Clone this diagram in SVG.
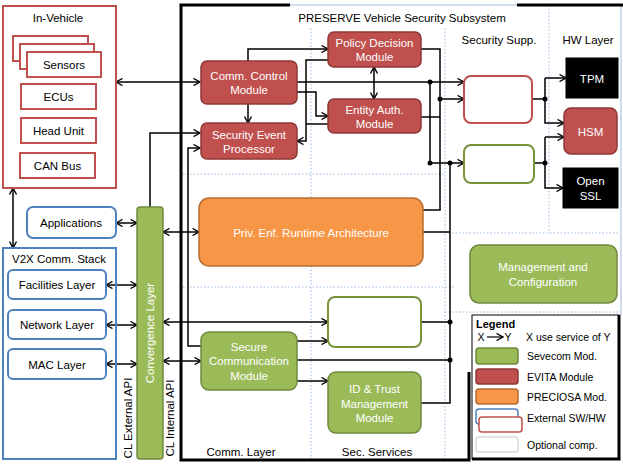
<svg xmlns="http://www.w3.org/2000/svg" width="623" height="467" viewBox="0 0 623 467">
<style>
text{font-family:"Liberation Sans",Arial,sans-serif;font-size:11.5px;fill:#000;text-anchor:middle}
.w{fill:#fff}
.red{fill:#C0504D;stroke:#8C3836;stroke-width:1.5}
.grn{fill:#9BBB59;stroke:#71893F;stroke-width:1.5}
.org{fill:#F79646;stroke:#B66D31;stroke-width:1.5}
.blk{fill:#000;stroke:#000}
.ro{fill:#fff;stroke:#C0504D;stroke-width:2}
.bo{fill:#fff;stroke:#4F81BD;stroke-width:2}
.go{fill:#fff;stroke:#77933C;stroke-width:2}
.grid{stroke:#9DB9DE;stroke-width:1;stroke-dasharray:1.5 2;fill:none}
.c{fill:none;stroke:#000;stroke-width:1.5}
.e{marker-end:url(#a)}
.b{marker-start:url(#a);marker-end:url(#a)}
.thick{stroke:#000;stroke-width:3;fill:none}
.lg{text-anchor:start;font-size:10.5px}
</style>
<defs>
<marker id="a" viewBox="0 0 8 8" refX="7.5" refY="4" markerWidth="8" markerHeight="8" markerUnits="userSpaceOnUse" orient="auto-start-reverse">
<path d="M1,0.5 L7.5,4 L1,7.5" fill="none" stroke="#000" stroke-width="1.4"/>
</marker>
</defs>
<rect width="623" height="467" fill="#fff"/>

<g id="grid">
<line class="grid" x1="311" y1="28" x2="311" y2="460"/>
<line class="grid" x1="445" y1="28" x2="445" y2="460"/>
<line class="grid" x1="549" y1="5" x2="549" y2="233"/>
<line class="grid" x1="183" y1="174" x2="445" y2="174"/>
<line class="grid" x1="183" y1="287" x2="455" y2="287"/>
<line class="grid" x1="445" y1="233" x2="620" y2="233"/>
<line class="grid" x1="445" y1="312" x2="620" y2="312"/>
</g>

<g id="preserve-frame">
<line x1="290" y1="5" x2="517" y2="5" stroke="#9DB9DE" stroke-width="1"/>
<line x1="621" y1="5" x2="621" y2="315" stroke="#9DB9DE" stroke-width="1"/>
<path class="thick" d="M290,5 H181 V460 H469 V372"/>
<line class="thick" x1="517" y1="5" x2="623" y2="5"/>
<text x="402" y="21.5">PRESERVE Vehicle Security Subsystem</text>
<text x="499" y="44">Security Supp.</text>
<text x="588" y="44">HW Layer</text>
<text x="241" y="456">Comm. Layer</text>
<text x="377" y="456">Sec. Services</text>
</g>

<g id="connectors">
<path class="c b" d="M116,82 H200"/>
<path class="c e" d="M150,207 V133 H200"/>
<path class="c e" d="M201,346 H188 V148 H200"/>
<path class="c b" d="M163,232 H199"/>
<path class="c b" d="M163,322 H328"/>
<path class="c b" d="M163,361 H201"/>
<path class="c b" d="M116,223 H137"/>
<path class="c b" d="M106,285 H137"/>
<path class="c b" d="M106,325 H137"/>
<path class="c b" d="M106,364 H137"/>
<path class="c b" d="M13,188 V248"/>
<path class="c e" d="M248,104 V123"/>
<path class="c e" d="M248,61 V49 H328"/>
<path class="c e" d="M297,92 H316 V116 H328"/>
<path class="c b" d="M374,67 V99"/>
<path class="c e" d="M328,60 H306 V141 H297"/>
<path class="c" d="M328,124 H306"/>
<path class="c e" d="M297,82 H464"/>
<path class="c e" d="M430,82 V163 H464"/>
<path class="c" d="M421,49 H440 V210 H423"/>
<path class="c" d="M421,117 H440"/>
<path class="c e" d="M440,99 H464"/>
<path class="c" d="M450,163 V403 H421"/>
<path class="c" d="M423,232 H450"/>
<path class="c" d="M421,322 H450"/>
<path class="c" d="M297,360 H450"/>
<path class="c e" d="M297,341 H328"/>
<path class="c e" d="M297,381 H328"/>
<path class="c" d="M532,99 H545"/>
<path class="c e" d="M545,78 V123 H564"/>
<path class="c e" d="M545,78 H566"/>
<path class="c" d="M534,163 H545"/>
<path class="c e" d="M545,137 V188 H563"/>
<path class="c e" d="M545,137 H564"/>
<circle cx="430" cy="82" r="2.5"/>
<circle cx="430" cy="163" r="2.5"/>
<circle cx="450" cy="163" r="2.5"/>
<circle cx="440" cy="99" r="2.5"/>
<circle cx="450" cy="322" r="2.5"/>
<circle cx="450" cy="360" r="2.5"/>
<circle cx="545" cy="99" r="2.5"/>
<circle cx="545" cy="163" r="2.5"/>
</g>

<g id="in-vehicle">
<rect x="3" y="6" width="113" height="182" fill="none" stroke="#C0504D" stroke-width="2"/>
<text x="58" y="21.5">In-Vehicle</text>
</g>
<g id="sensors">
<rect class="ro" x="13" y="36" width="75" height="25"/>
<rect class="ro" x="20" y="44" width="74" height="25"/>
<rect class="ro" x="27" y="52" width="74" height="25"/>
<text x="64" y="69">Sensors</text>
</g>
<g id="ecus"><rect class="ro" x="21" y="84" width="75" height="25"/><text x="58.5" y="101">ECUs</text></g>
<g id="head-unit"><rect class="ro" x="21" y="118" width="75" height="25"/><text x="58.5" y="135">Head Unit</text></g>
<g id="can-bus"><rect class="ro" x="20" y="153" width="75" height="25"/><text x="57.5" y="170">CAN Bus</text></g>

<g id="applications"><rect class="bo" x="27" y="207" width="89" height="31" rx="6"/><text x="71" y="227">Applications</text></g>
<g id="v2x">
<rect x="3" y="248" width="113" height="211" fill="none" stroke="#4F81BD" stroke-width="2"/>
<text x="59" y="262.5">V2X Comm. Stack</text>
</g>
<g id="facilities"><rect class="bo" x="8" y="270" width="98" height="29" rx="5"/><text x="57" y="289">Facilities Layer</text></g>
<g id="network"><rect class="bo" x="8" y="310" width="98" height="29" rx="5"/><text x="57" y="329">Network Layer</text></g>
<g id="mac"><rect class="bo" x="8" y="349" width="98" height="30" rx="5"/><text x="57" y="368.5">MAC Layer</text></g>

<g id="convergence">
<rect class="grn" x="137" y="207" width="26" height="252" rx="3"/>
<text class="w" transform="translate(154,333) rotate(-90)">Convergence Layer</text>
</g>
<g id="api-labels">
<text transform="translate(132,418) rotate(-90)">CL External API</text>
<text transform="translate(174,418) rotate(-90)">CL Internal API</text>
</g>

<g id="ccm"><rect class="red" x="201" y="61" width="96" height="43" rx="6"/><text class="w" x="249" y="80">Comm. Control</text><text class="w" x="249" y="94">Module</text></g>
<g id="sep"><rect class="red" x="201" y="123" width="96" height="36" rx="6"/><text class="w" x="249" y="139">Security Event</text><text class="w" x="249" y="153">Processor</text></g>
<g id="pdm"><rect class="red" x="328" y="32" width="93" height="35" rx="6"/><text class="w" x="374.5" y="46.5">Policy Decision</text><text class="w" x="374.5" y="61">Module</text></g>
<g id="eam"><rect class="red" x="328" y="99" width="93" height="34" rx="6"/><text class="w" x="374.5" y="113.5">Entity Auth.</text><text class="w" x="374.5" y="128">Module</text></g>
<g id="priv-enf"><rect class="org" x="199" y="198" width="224" height="68" rx="10"/><text class="w" x="311" y="237">Priv. Enf. Runtime Architecture</text></g>
<g id="scm"><rect class="grn" x="201" y="332" width="96" height="58" rx="8"/><text class="w" x="249" y="351">Secure</text><text class="w" x="249" y="365">Communication</text><text class="w" x="249" y="380">Module</text></g>
<g id="id-trust"><rect class="grn" x="328" y="372" width="93" height="61" rx="8"/><text class="w" x="374.5" y="392.5">ID &amp; Trust</text><text class="w" x="374.5" y="407.5">Management</text><text class="w" x="374.5" y="422">Module</text></g>
<g id="opt-green-low"><rect class="go" x="328" y="297" width="93" height="50" rx="7"/></g>
<g id="opt-red"><rect class="ro" x="464" y="76" width="68" height="47" rx="7"/></g>
<g id="opt-green"><rect class="go" x="464" y="145" width="70" height="38" rx="7"/></g>
<g id="tpm"><rect class="blk" x="566" y="58" width="52" height="40"/><text class="w" x="592" y="83">TPM</text></g>
<g id="hsm"><rect class="red" x="564" y="108" width="53" height="46" rx="7"/><text class="w" x="590.5" y="136">HSM</text></g>
<g id="openssl"><rect class="blk" x="563" y="168" width="55" height="40"/><text class="w" x="590.5" y="185">Open</text><text class="w" x="590.5" y="200">SSL</text></g>
<g id="mgmt"><rect class="grn" x="470" y="245" width="147" height="58" rx="9"/><text class="w" x="543" y="271">Management and</text><text class="w" x="543" y="286">Configuration</text></g>

<g id="legend">
<rect x="472" y="315" width="147" height="144" fill="#fff" stroke="#000" stroke-width="1"/>
<path class="thick" d="M619,315 V459 H472"/>
<text x="476" y="328" style="text-anchor:start;font-weight:bold;font-size:11px">Legend</text>
<text x="481" y="341" style="font-size:10.5px">X</text>
<path class="c e" d="M487,337 H503" style="stroke-width:1.2"/>
<text x="508" y="341" style="font-size:10.5px">Y</text>
<text x="526" y="341" class="lg">X use service of Y</text>
<rect class="grn" x="476" y="348" width="42" height="16" rx="3"/>
<text x="527" y="360" class="lg">Sevecom Mod.</text>
<rect class="red" x="476" y="369" width="42" height="15" rx="3"/>
<text x="527" y="381" class="lg">EVITA Module</text>
<rect class="org" x="476" y="389" width="42" height="15" rx="3"/>
<text x="527" y="401" class="lg">PRECIOSA Mod.</text>
<rect x="476" y="409" width="42" height="15" rx="3" fill="#fff" stroke="#4F81BD" stroke-width="1.5"/>
<rect x="479" y="417" width="43" height="15" rx="3" fill="#fff" stroke="#C0504D" stroke-width="1.5"/>
<text x="527" y="422" class="lg">External SW/HW</text>
<rect x="476" y="437" width="42" height="15" rx="3" fill="#fff" stroke="#D9D9D9" stroke-width="1.5"/>
<text x="527" y="449" class="lg">Optional comp.</text>
</g>
</svg>
